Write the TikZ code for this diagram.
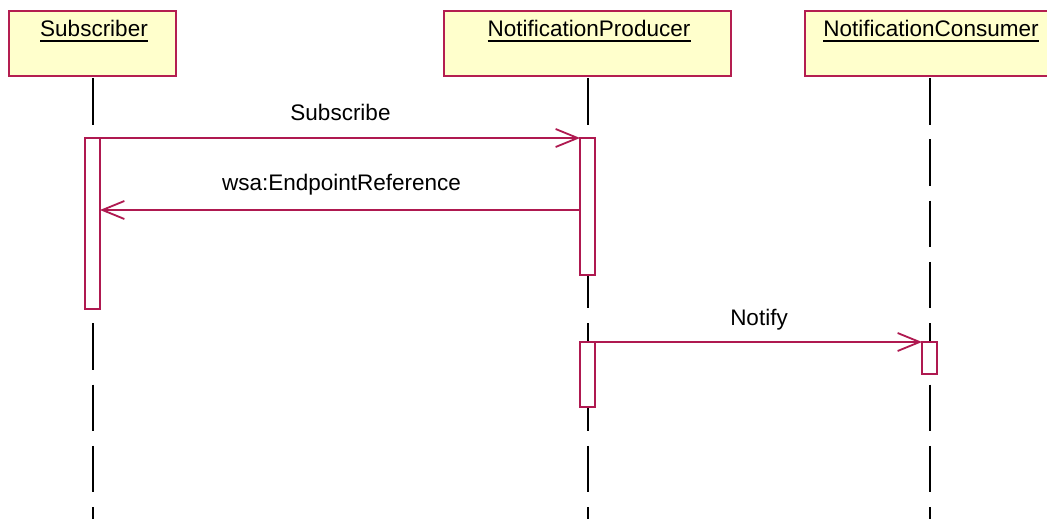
\documentclass[tikz,border=0pt]{standalone}
\usepackage{fontspec}
\setmainfont{Liberation Sans}
\usetikzlibrary{arrows.meta,calc}
\definecolor{umlborder}{RGB}{180,30,80}
\definecolor{umlline}{RGB}{175,25,80}
\definecolor{umlfill}{RGB}{255,255,204}
\tikzset{
  actorbox/.style={draw=umlborder, fill=umlfill, line width=1.1pt, minimum height=65pt, inner sep=0pt, outer sep=0pt},
  actorname/.style={anchor=base, inner sep=0pt, font=\fontsize{22.5}{27}\selectfont},
  lifeline/.style={line width=1.2pt, black, dash pattern=on 46.5pt off 14.8pt},
  activation/.style={draw=umlline, fill=white, line width=1.1pt, minimum width=15pt, inner sep=0pt, outer sep=0pt, anchor=north},
  message/.style={draw=umlline, line width=1.1pt, -{Straight Barb[length=22pt,width=18pt,line width=1.8pt]}},
  msglabel/.style={anchor=base, inner sep=0pt, font=\fontsize{22.5}{27}\selectfont},
}
\begin{document}
\begin{tikzpicture}[x=1pt,y=-1pt]
\clip (0,0) rectangle (1047,519);
\useasboundingbox (0,0) rectangle (1047,519);
\fill[white] (0,0) rectangle (1047,519);

% participants
\node[actorbox, minimum width=167pt] (sub) at (92.5,43.5) {};
\node[actorbox, minimum width=287pt] (prod) at (587.5,43.5) {};
\node[actorbox, minimum width=250pt] (cons) at (930,43.5) {};
\node[actorname] (subl) at (94,37) {Subscriber};
\node[actorname] (prodl) at (589,37) {NotificationProducer};
\node[actorname] (consl) at (931,37) {NotificationConsumer};
\foreach \n in {subl,prodl,consl}
  \draw[line width=1.4pt] ($(\n.base west)+(0,4)$) -- ($(\n.base east)+(0,4)$);

% lifelines
\coordinate (subend) at (93,530);
\coordinate (prodend) at (588,530);
\coordinate (consend) at (930,530);
\draw[lifeline] (93,78) -- (subend);
\draw[lifeline] (588,78) -- (prodend);
\draw[lifeline] (930,78) -- (consend);

% activation bars
\node[activation, minimum height=171pt] (subact) at (92.5,138) {};
\node[activation, minimum height=137pt] (prodact1) at (587.5,138) {};
\node[activation, minimum height=65pt] (prodact2) at (587.5,342) {};
\node[activation, minimum height=32pt] (consact) at (929.5,342) {};

% messages
\draw[message] (subact.north east) -- (prodact1.north west);
\coordinate (replyfrom) at ($(prodact1.north west)+(0,72)$);
\draw[message] (replyfrom) -- (replyfrom -| subact.east);
\draw[message] (prodact2.north east) -- (consact.north west);

\node[msglabel] (m1) at (340.5,120) {Subscribe};
\node[msglabel] (m2) at (341.5,190) {wsa:EndpointReference};
\node[msglabel] (m3) at (759,325) {Notify};
\end{tikzpicture}
\end{document}
